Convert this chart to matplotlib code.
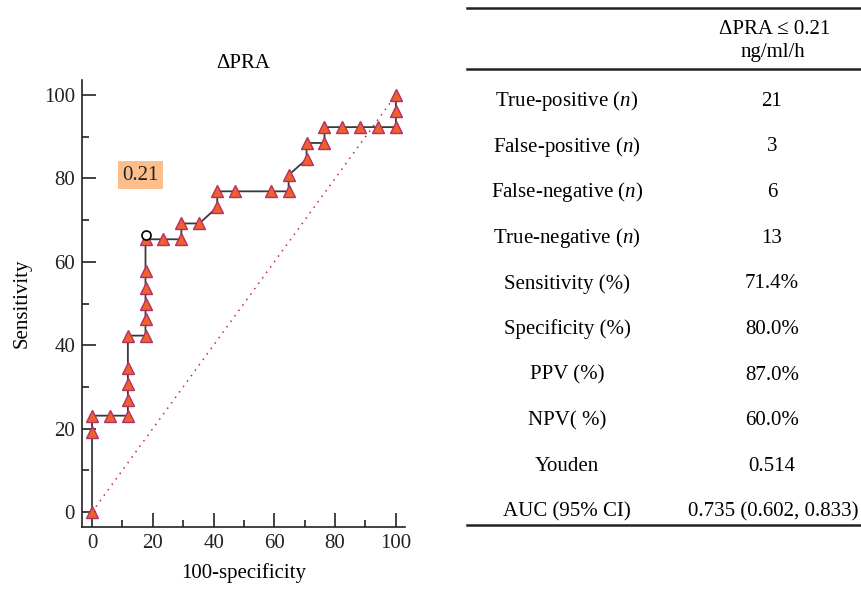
import matplotlib
matplotlib.use("Agg")
import matplotlib.pyplot as plt
import matplotlib.transforms as mtransforms
from matplotlib.ticker import MultipleLocator

plt.rcParams['font.family'] = ['Liberation Serif', 'DejaVu Serif']
plt.rcParams['mathtext.fontset'] = 'custom'
plt.rcParams['mathtext.rm'] = 'Liberation Serif'
plt.rcParams['mathtext.it'] = 'Liberation Serif:italic'

# ROC points (100-specificity, sensitivity)
fpr = [0, 0, 0, 5.9, 11.8, 11.8, 11.8, 11.8, 11.8, 17.6, 17.6, 17.6, 17.6, 17.6, 17.6,
       23.5, 29.4, 29.4, 35.3, 41.2, 41.2, 47.1, 58.8, 64.7, 64.7, 70.6, 70.6, 76.5,
       76.5, 82.4, 88.2, 94.1, 100, 100, 100]
tpr = [0, 19.2, 23.1, 23.1, 23.1, 26.9, 30.8, 34.6, 42.3, 42.3, 46.2, 50.0, 53.8, 57.7, 65.4,
       65.4, 65.4, 69.2, 69.2, 73.1, 76.9, 76.9, 76.9, 76.9, 80.8, 84.6, 88.5, 88.5,
       92.3, 92.3, 92.3, 92.3, 92.3, 96.2, 100]
cutoff_point = (17.6, 65.4)
cutoff_label = "0.21"
cutoff_label_pos = (10.0, 80.8)
title = "\u0394PRA"

table_header = ["\u0394PRA \u2264 0.21", "ng/ml/h"]
row_labels = ["True-positive ($n$)", "False-positive ($n$)", "False-negative ($n$)",
              "True-negative ($n$)", "Sensitivity (%)", "Specificity (%)", "PPV (%)",
              "NPV( %)", "Youden", "AUC (95% CI)"]
row_values = ["21", "3", "6", "13", "71.4%", "80.0%", "87.0%", "60.0%", "0.514",
              "0.735 (0.602, 0.833)"]

FS = 15
W, H = 862, 589
fig = plt.figure(figsize=(W / 100, H / 100), dpi=100)

ax = fig.add_axes([82 / W, 1 - 527 / H, (405 - 82) / W, (527 - 80) / H])
ax.set_xlim(-3.3, 103.0)
ax.set_ylim(-3.6, 103.6)

ax.plot([0, 100], [0, 100], linestyle=(0, (1, 3.4)), color='#c8283c', lw=1.1, zorder=1)
ax.plot(fpr, tpr, color='#3a3a3a', lw=1.3, zorder=2)
ax.plot(fpr, tpr, linestyle='none', marker='^', markersize=9,
        markerfacecolor='#f2602a', markeredgecolor='#b03068', markeredgewidth=1.0, zorder=3)
off = mtransforms.offset_copy(ax.transData, fig=fig, x=0, y=4, units='dots')
ax.plot([cutoff_point[0]], [cutoff_point[1]], linestyle='none', marker='o', markersize=6.5,
        markerfacecolor='white', markeredgecolor='black', markeredgewidth=1.2,
        transform=off, zorder=4)
ax.text(cutoff_label_pos[0], cutoff_label_pos[1], cutoff_label, fontsize=FS,
        ha='left', va='center', color='#222222',
        bbox=dict(boxstyle='square,pad=0.2', facecolor='#fdbe8c', edgecolor='none'))

for s in ['top', 'right']:
    ax.spines[s].set_visible(False)
for s in ['left', 'bottom']:
    ax.spines[s].set_linewidth(1.2)
    ax.spines[s].set_color('#222222')
ax.xaxis.set_major_locator(MultipleLocator(20))
ax.xaxis.set_minor_locator(MultipleLocator(10))
ax.yaxis.set_major_locator(MultipleLocator(20))
ax.yaxis.set_minor_locator(MultipleLocator(10))
ax.tick_params(which='major', direction='in', length=10, width=1.2, labelsize=FS,
               colors='#222222', pad=5)
ax.tick_params(which='minor', direction='in', length=5, width=1.2, colors='#222222')
ax.set_xlabel("100-specificity", fontsize=FS, labelpad=7)
ax.set_ylabel("Sensitivity", fontsize=FS, labelpad=9)
ax.set_title(title, fontsize=FS, pad=9)

# Table
def fx(px):
    return px / W

def fy(py):
    return 1 - py / H

fig.add_artist(plt.Line2D([fx(467), fx(862)], [fy(8), fy(8)], color='#222222', lw=1.8))
fig.add_artist(plt.Line2D([fx(467), fx(862)], [fy(69), fy(69)], color='#222222', lw=1.8))
fig.add_artist(plt.Line2D([fx(467), fx(862)], [fy(525), fy(525)], color='#222222', lw=1.8))

fig.text(fx(775), fy(30), table_header[0], fontsize=FS, ha='center', va='center')
fig.text(fx(773), fy(52), table_header[1], fontsize=FS, ha='center', va='center')

row_y0, row_dy = 101, 45.7
for i, (lab, val) in enumerate(zip(row_labels, row_values)):
    y = fy(row_y0 + i * row_dy)
    fig.text(fx(567), y, lab, fontsize=FS, ha='center', va='center')
    if i == len(row_values) - 1:
        fig.text(fx(859), y, val, fontsize=FS, ha='right', va='center')
    else:
        fig.text(fx(772), y, val, fontsize=FS, ha='center', va='center')

fig.savefig("out.png", dpi=100)
